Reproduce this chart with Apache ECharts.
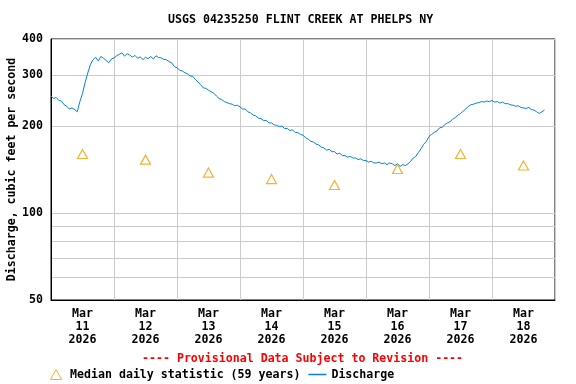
<!DOCTYPE html>
<html>
<head>
<meta charset="utf-8">
<script src="https://cdn.jsdelivr.net/npm/echarts@6/dist/echarts.min.js"></script>
<style>html,body{margin:0;padding:0;background:#fff}#c{width:576px;height:384px}</style>
</head>
<body>
<div id="c"></div>
<script>
// Day labels (centred under each day)
const dayLabels = ['Mar\n11\n2026','Mar\n12\n2026','Mar\n13\n2026','Mar\n14\n2026','Mar\n15\n2026','Mar\n16\n2026','Mar\n17\n2026','Mar\n18\n2026'];
// Median daily statistic (59 years), one per day at noon (hours since Mar 11 00:00)
const medianHours = [12, 36, 60, 84, 108, 132, 156, 180];
const medianValues = [160, 153, 138, 131, 125, 142, 160, 146];
// Discharge, hourly readings starting Mar 11 00:00 (cfs)
const dischargeStartHour = 0;
const dischargeStepHours = 1;
const dischargeValues = [
 254,249,251,245,244,237,234,229,231,228,224,243,259,283,305,326,339,346,336,348,
 343,337,331,341,344,350,354,358,349,356,352,346,351,343,347,339,346,342,348,341,
 350,345,344,340,339,334,331,321,318,312,310,306,303,298,297,290,284,278,271,270,
 266,263,260,254,249,247,243,241,239,238,235,236,233,229,229,224,222,218,217,213,
 212,209,209,205,205,202,201,199,200,196,196,193,194,190,190,187,186,182,180,177,
 176,173,172,169,168,165,166,163,163,160,161,158,158,156,157,155,155,153,154,152,
 152,150,151,149,149,150,148,149,147,149,148,146,148,145,147,146,148,151,155,157,
 162,167,173,177,184,187,190,192,197,198,202,205,207,211,214,218,221,225,229,234,
 237,238,240,241,243,242,244,243,245,242,243,240,242,239,239,237,236,234,235,232,
 231,230,232,228,227,224,221,224,227
];
const yTickValues = [50, 60, 70, 80, 90, 100, 200, 300, 400];
const yLabelValues = [50, 100, 200, 300, 400];

const dischargeData = dischargeValues.map((v, i) => [dischargeStartHour + i * dischargeStepHours, v]);
const medianData = medianHours.map((h, i) => [h, medianValues[i]]);

const FONT = '"DejaVu Sans Mono", "Liberation Mono", monospace';
const FS = 11.6;
const orange = '#f0a000';
const blue = '#0a80d0';

const chart = echarts.init(document.getElementById('c'), null, {renderer: 'canvas'});
chart.setOption({
  animation: false,
  backgroundColor: '#fff',
  title: {
    text: 'USGS 04235250 FLINT CREEK AT PHELPS NY',
    left: 168, top: 14, padding: 0,
    textStyle: {fontFamily: FONT, fontWeight: 'bold', fontSize: FS, color: '#000'}
  },
  grid: {left: 51, right: 21, top: 39, bottom: 84, show: true, borderColor: '#000', borderWidth: 1,
         backgroundColor: 'transparent', containLabel: false, outerBoundsMode: 'none'},
  xAxis: [
    {
      type: 'value', min: 0, max: 192, interval: 24,
      axisLine: {show: true, lineStyle: {color: '#000'}},
      axisTick: {show: false},
      axisLabel: {show: false},
      splitLine: {show: true, lineStyle: {color: '#cccccc', width: 1}}
    },
    {
      type: 'category', data: dayLabels, position: 'bottom', boundaryGap: true,
      axisLine: {show: false}, axisTick: {show: false}, splitLine: {show: false},
      axisLabel: {interval: 0, margin: 7, lineHeight: 13, fontFamily: FONT, fontWeight: 'bold', fontSize: FS, color: '#000'}
    }
  ],
  yAxis: {
    type: 'log', logBase: 10, min: 50, max: 400,
    name: 'Discharge, cubic feet per second',
    nameLocation: 'middle', nameGap: 33, nameMoveOverlap: false,
    nameTextStyle: {fontFamily: FONT, fontWeight: 'bold', fontSize: FS, color: '#000'},
    axisLine: {show: true, lineStyle: {color: '#000'}},
    axisTick: {show: false, customValues: yTickValues},
    axisLabel: {customValues: yLabelValues, margin: 8, fontFamily: FONT, fontWeight: 'bold', fontSize: FS, color: '#000'},
    splitLine: {show: true, lineStyle: {color: '#cccccc', width: 1}}
  },
  legend: {
    left: 48, top: 367, padding: 0, itemWidth: 18, itemHeight: 10, itemGap: 8,
    textStyle: {fontFamily: FONT, fontWeight: 'bold', fontSize: FS, color: '#000'},
    data: [
      {name: 'Median daily statistic (59 years)', icon: 'path://M5,0 L10,9 L0,9 Z',
       itemStyle: {color: 'none', borderColor: orange, borderWidth: 1}},
      {name: 'Discharge', icon: 'path://M0,0 L18,0 L18,1.5 L0,1.5 Z',
       itemStyle: {color: blue, borderWidth: 0}}
    ]
  },
  graphic: [
    {type: 'text', left: 142, top: 353,
     style: {text: '---- Provisional Data Subject to Revision ----', fill: '#ff0000',
              font: 'bold ' + FS + 'px ' + FONT}}
  ],
  series: [
    {
      name: 'Discharge', type: 'line', xAxisIndex: 0, data: dischargeData,
      symbol: 'none', showSymbol: false,
      lineStyle: {color: blue, width: 1}, itemStyle: {color: blue}, z: 3
    },
    {
      name: 'Median daily statistic (59 years)', type: 'scatter', xAxisIndex: 0, data: medianData,
      symbol: 'path://M5,0 L10,9 L0,9 Z', symbolSize: [10, 9],
      itemStyle: {color: 'none', borderColor: orange, borderWidth: 1.2}, z: 4
    }
  ]
});
</script>
</body>
</html>
